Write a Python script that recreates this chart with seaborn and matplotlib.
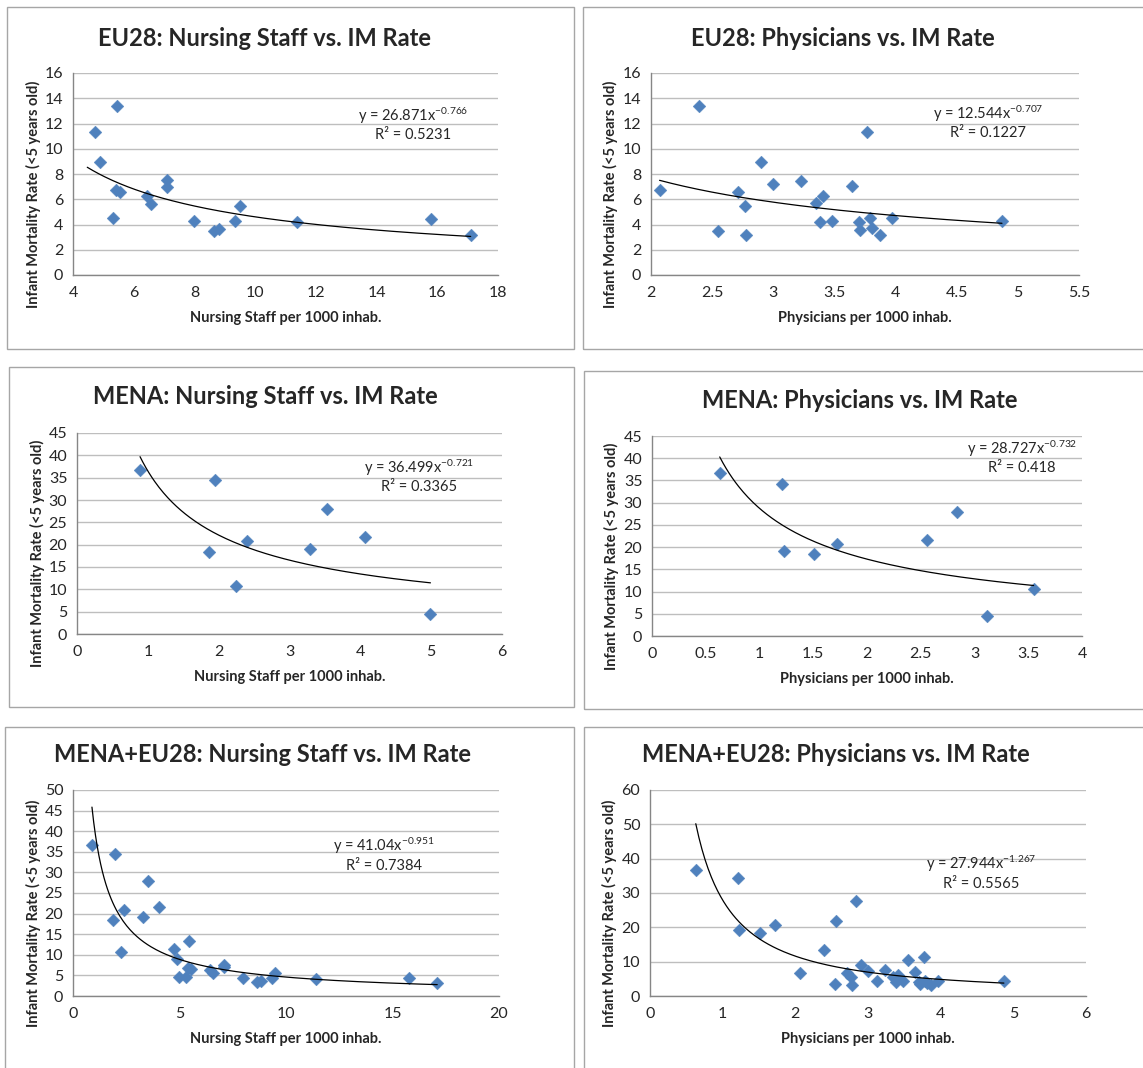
import numpy as np
import pandas as pd
import seaborn as sns
import matplotlib.pyplot as plt
from matplotlib.patches import Rectangle

# ---- data ----
EU_NURSE_X = [4.74, 5.45, 4.88, 5.41, 5.56, 5.32, 6.43, 6.58, 7.10, 7.10,
              8.00, 8.63, 8.81, 9.33, 9.49, 11.39, 15.79, 17.10]
EU_NURSE_Y = [11.3, 13.4, 8.95, 6.7, 6.55, 4.5, 6.28, 5.65, 7.5, 7.0,
              4.3, 3.5, 3.64, 4.25, 5.49, 4.22, 4.46, 3.17]

EU_PHYS_X = [2.07, 2.39, 2.55, 2.71, 2.77, 2.78, 2.90, 3.00, 3.23, 3.35, 3.38,
             3.41, 3.48, 3.64, 3.70, 3.71, 3.77, 3.79, 3.81, 3.87, 3.97, 4.87]
EU_PHYS_Y = [6.7, 13.4, 3.48, 6.57, 5.44, 3.14, 8.95, 7.23, 7.47, 5.67, 4.22,
             6.25, 4.3, 7.02, 4.22, 3.59, 11.3, 4.49, 3.75, 3.14, 4.51, 4.3]

MENA_NURSE_X = [0.89, 1.95, 1.87, 2.24, 2.40, 3.29, 3.53, 4.06, 4.99]
MENA_NURSE_Y = [36.75, 34.4, 18.4, 10.7, 20.8, 19.1, 27.9, 21.7, 4.5]

MENA_PHYS_X = [0.63, 1.21, 1.23, 1.51, 1.72, 2.56, 2.84, 3.12, 3.55]
MENA_PHYS_Y = [36.75, 34.3, 19.1, 18.4, 20.8, 21.7, 27.8, 4.5, 10.6]

# power trendlines as printed on the chart (y = a * x^b)
TREND_A = [26.871, 12.544, 36.499, 28.727, 41.04, 27.944]
TREND_B = [-0.766, -0.707, -0.721, -0.732, -0.951, -1.267]
TREND_R2 = ["0.5231", "0.1227", "0.3365", "0.418", "0.7384", "0.5565"]
TREND_START = [4.47, 2.07, 0.89, 0.63, 0.89, 0.63]

TITLES = ["EU28: Nursing Staff vs. IM Rate", "EU28: Physicians vs. IM Rate",
          "MENA: Nursing Staff vs. IM Rate", "MENA: Physicians vs. IM Rate",
          "MENA+EU28: Nursing Staff vs. IM Rate", "MENA+EU28: Physicians vs. IM Rate"]
XLABELS = ["Nursing Staff per 1000 inhab.", "Physicians per 1000 inhab."] * 3
YLABEL = "Infant Mortality Rate (<5 years old)"

XTICKS = [np.arange(4, 18.1, 2), np.arange(2, 5.51, 0.5),
          np.arange(0, 6.1, 1), np.arange(0, 4.01, 0.5),
          np.arange(0, 20.1, 5), np.arange(0, 6.1, 1)]
YTICKS = [np.arange(0, 16.1, 2), np.arange(0, 16.1, 2),
          np.arange(0, 45.1, 5), np.arange(0, 45.1, 5),
          np.arange(0, 50.1, 5), np.arange(0, 60.1, 10)]

sets = [
    (EU_NURSE_X, EU_NURSE_Y),
    (EU_PHYS_X, EU_PHYS_Y),
    (MENA_NURSE_X, MENA_NURSE_Y),
    (MENA_PHYS_X, MENA_PHYS_Y),
    (MENA_NURSE_X + EU_NURSE_X, MENA_NURSE_Y + EU_NURSE_Y),
    (MENA_PHYS_X + EU_PHYS_X, MENA_PHYS_Y + EU_PHYS_Y),
]

# ---- layout (pixels of a 1143x1068 canvas) ----
W, H = 1143, 1068
PLOT_BOX = [(73, 73, 498, 275), (651, 73, 1079, 275),
            (77, 433, 502, 634), (652, 436, 1082, 636),
            (73, 790, 499, 996), (650, 790, 1086, 996)]
FRAME_BOX = [(7, 7, 574, 349), (583, 7, 1160, 349),
             (9, 367, 574, 707), (584, 371, 1160, 709),
             (5, 727, 574, 1080), (584, 727, 1160, 1080)]
TITLE_POS = [(264, 38), (843, 38), (265, 397), (860, 400), (263, 755), (836, 755)]
EQ_POS = [(0.80, 0.79), (0.787, 0.80), (0.805, 0.826), (0.86, 0.935),
          (0.73, 0.728), (0.76, 0.64)]

sns.set_theme(style="white")
plt.rcParams['font.family'] = ['Lato', 'DejaVu Sans']
plt.rcParams['mathtext.fontset'] = 'custom'
plt.rcParams['mathtext.rm'] = 'Lato'
plt.rcParams['mathtext.it'] = 'Lato'

BLUE = "#4F81BD"
GRID = "#BEBEBE"
AXC = "#868686"

fig = plt.figure(figsize=(W / 100, H / 100), dpi=100)
fig.patch.set_facecolor("white")

for (x0, y0, x1, y1) in FRAME_BOX:
    fig.patches.append(Rectangle((x0 / W, 1 - y1 / H), (x1 - x0) / W, (y1 - y0) / H,
                                 transform=fig.transFigure, fill=False,
                                 edgecolor="#A6A6A6", linewidth=1.0))

for i, (xs, ys) in enumerate(sets):
    x0, y0, x1, y1 = PLOT_BOX[i]
    ax = fig.add_axes([x0 / W, 1 - y1 / H, (x1 - x0) / W, (y1 - y0) / H])
    df = pd.DataFrame({"x": xs, "y": ys})

    xt, yt = XTICKS[i], YTICKS[i]
    ax.set_xlim(xt[0], xt[-1])
    ax.set_ylim(yt[0], yt[-1])
    ax.set_xticks(xt)
    ax.set_yticks(yt)
    ax.set_xticklabels([f"{v:g}" for v in xt], fontsize=11.5)
    ax.set_yticklabels([f"{v:g}" for v in yt], fontsize=11.5)
    ax.tick_params(axis="y", length=0, pad=7)
    ax.tick_params(axis="x", length=0, pad=8)
    ax.grid(axis="y", color=GRID, linewidth=1.0)
    ax.set_axisbelow(True)
    for s in ["top", "right"]:
        ax.spines[s].set_visible(False)
    for s in ["left", "bottom"]:
        ax.spines[s].set_color(AXC)
        ax.spines[s].set_linewidth(1.0)

    # trendline
    tx = np.linspace(TREND_START[i], max(xs), 200)
    trend = pd.DataFrame({"x": tx, "y": TREND_A[i] * tx ** TREND_B[i]})

    sns.scatterplot(data=df, x="x", y="y", ax=ax, marker="D", s=42,
                    color=BLUE, edgecolor=BLUE, linewidth=0.3, zorder=3)
    sns.lineplot(data=trend, x="x", y="y", ax=ax, color="black",
                 linewidth=0.9, zorder=4)

    ax.set_xlabel(XLABELS[i], fontsize=10.5, fontweight="bold", labelpad=8)
    ax.set_ylabel(YLABEL, fontsize=10.5, fontweight="bold")
    ax.yaxis.set_label_coords(-0.076, 0.40)

    ex, ey = EQ_POS[i]
    ax.text(ex, ey, f"y = {TREND_A[i]:g}x$^{{{TREND_B[i]:g}}}$", transform=ax.transAxes,
            ha="center", va="center", fontsize=10.5)
    ax.text(ex, ey - 0.095, f"R² = {TREND_R2[i]}", transform=ax.transAxes,
            ha="center", va="center", fontsize=10.5)

    tx_, ty_ = TITLE_POS[i]
    fig.text(tx_ / W, 1 - ty_ / H, TITLES[i], ha="center", va="center",
             fontsize=17, fontweight="bold")

fig.savefig("out.png", dpi=100)
